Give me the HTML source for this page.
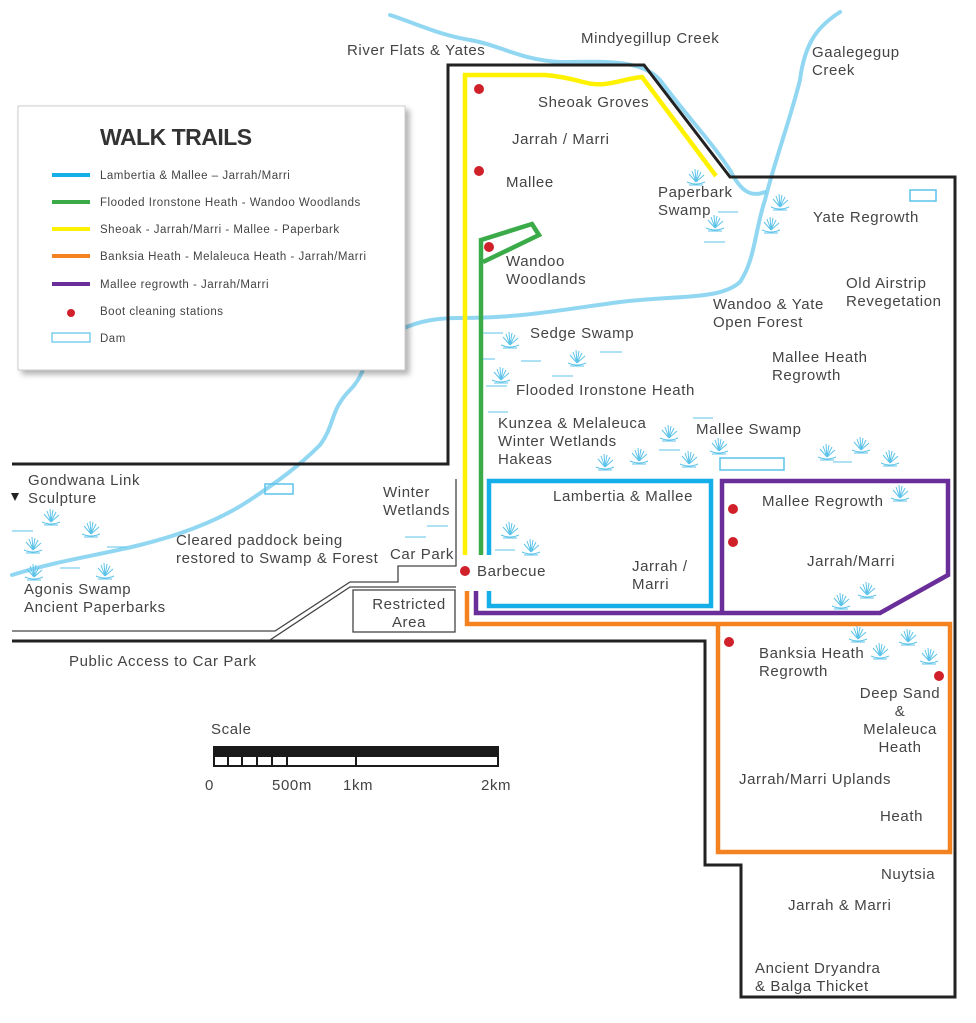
<!DOCTYPE html>
<html><head><meta charset="utf-8"><style>
html,body{margin:0;padding:0;background:#fff;}
svg{display:block;}
text{font-family:"Liberation Sans",sans-serif;font-size:15px;letter-spacing:0.6px;fill:#444;}
.lg{font-size:11.5px;letter-spacing:0.5px;}
</style></head><body>
<svg width="976" height="1023" viewBox="0 0 976 1023" xmlns="http://www.w3.org/2000/svg">
<defs>
<symbol id="s" viewBox="-10 -11 20 20" overflow="visible">
<g stroke="#5cc3ea" stroke-width="1" fill="none">
<path d="M0,4 L-7,-4 M0,4 L-4,-7 M0,4 L-1,-9 M0,4 L2,-8 M0,4 L5,-6 M0,4 L8,-3"/>
<path d="M-9,4 Q0,8 9,4"/><path d="M-7,7 L7,7"/>
</g></symbol>
<filter id="sh" x="-5%" y="-5%" width="115%" height="120%"><feDropShadow dx="4" dy="4" stdDeviation="3" flood-color="#000" flood-opacity="0.3"/></filter>
</defs>

<!-- rivers -->
<g fill="none" stroke="#7fd0f0" stroke-linecap="round">
<path stroke-width="4" opacity="0.85" d="M12,575 C60,560 100,555 140,545 C180,535 220,520 250,500 C280,480 300,465 320,445 C335,425 330,410 350,390 C370,370 360,350 400,330 C420,320 440,318 460,318 C520,318 560,310 620,302 C680,295 720,300 740,282 C755,260 755,230 765,200 C775,160 790,120 800,80 C805,40 820,25 840,12"/>
<path stroke-width="4" opacity="0.85" d="M390,15 C420,25 440,35 470,40 C500,45 520,60 560,62 C600,62 640,58 660,80 C690,120 710,140 730,170 C740,190 750,198 765,192"/>
</g>

<!-- boundary -->
<path d="M12,464 L448,464 L448,65 L644,65 L730,177 L955,177 L955,997 L741,997 L741,865 L705,865 L705,641 L12,641" fill="none" stroke="#222" stroke-width="3"/>
<g fill="none" stroke="#444" stroke-width="1.3">
<path d="M12,631 L275,631 L350,582 L398,582 L398,566 L456,566 L456,479"/>
<path d="M270,640 L350,587 L456,587"/>
<rect x="353" y="590" width="102" height="42"/>
</g>

<!-- trails -->
<g fill="none" stroke-linejoin="miter">
<path stroke="#f58220" stroke-width="4.5" d="M467,591 L467,624 L950,624 L950,852 L718,852 L718,624"/>
<path stroke="#6a2e9a" stroke-width="4.5" d="M476,591 L476,613 L880,613 L948,575 L948,481 L722,481 L722,613"/>
<path stroke="#15aee8" stroke-width="4.5" d="M489,555 L489,481 L711,481 L711,606 L489,606 L489,591"/>
<path stroke="#fff200" stroke-width="4.5" d="M465,555 L465,75 L545,75 C580,78 585,86 605,84 C620,82 630,78 642,77 L716,176"/>
<path stroke="#3aab48" stroke-width="4.5" d="M481,555 L481,240 L532,224 L539,235 L483,262"/>
</g>

<!-- dams -->
<g fill="none" stroke="#5cc3ea" stroke-width="1.5">
<rect x="910" y="190" width="26" height="11"/>
<rect x="720" y="458" width="64" height="12"/>
<rect x="265" y="484" width="28" height="10"/>
</g>

<!-- sedges -->
<g>
<use href="#s" x="686" y="167" width="20" height="20"/>
<use href="#s" x="770" y="192" width="20" height="20"/>
<use href="#s" x="705" y="213" width="20" height="20"/>
<use href="#s" x="761" y="215" width="20" height="20"/>
<use href="#s" x="500" y="330" width="20" height="20"/>
<use href="#s" x="567" y="348" width="20" height="20"/>
<use href="#s" x="491" y="365" width="20" height="20"/>
<use href="#s" x="659" y="423" width="20" height="20"/>
<use href="#s" x="709" y="436" width="20" height="20"/>
<use href="#s" x="629" y="446" width="20" height="20"/>
<use href="#s" x="595" y="452" width="20" height="20"/>
<use href="#s" x="679" y="449" width="20" height="20"/>
<use href="#s" x="817" y="442" width="20" height="20"/>
<use href="#s" x="851" y="435" width="20" height="20"/>
<use href="#s" x="880" y="448" width="20" height="20"/>
<use href="#s" x="500" y="520" width="20" height="20"/>
<use href="#s" x="521" y="537" width="20" height="20"/>
<use href="#s" x="890" y="483" width="20" height="20"/>
<use href="#s" x="831" y="591" width="20" height="20"/>
<use href="#s" x="857" y="580" width="20" height="20"/>
<use href="#s" x="848" y="624" width="20" height="20"/>
<use href="#s" x="870" y="641" width="20" height="20"/>
<use href="#s" x="898" y="627" width="20" height="20"/>
<use href="#s" x="919" y="646" width="20" height="20"/>
<use href="#s" x="41" y="507" width="20" height="20"/>
<use href="#s" x="81" y="519" width="20" height="20"/>
<use href="#s" x="23" y="535" width="20" height="20"/>
<use href="#s" x="24" y="562" width="20" height="20"/>
<use href="#s" x="95" y="561" width="20" height="20"/>
</g>
<g stroke="#5cc3ea" stroke-width="1">
<path d="M718,212h20M704,242h21M483,333h20M483,359h12M521,361h20M600,352h22M552,376h21M486,386h21M488,412h20M693,418h20M659,450h21M833,462h19M495,550h20M12,531h21M107,547h20M60,568h20M427,526h21M405,537h21"/>
</g>

<!-- dots -->
<g fill="#d0202a">
<circle cx="479" cy="89" r="5"/><circle cx="479" cy="171" r="5"/><circle cx="489" cy="247" r="5"/>
<circle cx="465" cy="571" r="5"/><circle cx="733" cy="509" r="5"/><circle cx="733" cy="542" r="5"/>
<circle cx="729" cy="642" r="5"/><circle cx="939" cy="676" r="5"/>
</g>

<!-- scale -->
<rect x="213" y="746" width="286" height="10" fill="#1a1a1a"/>
<rect x="214" y="756" width="284" height="10" fill="#fff" stroke="#1a1a1a" stroke-width="2"/>
<path d="M228,756v10M242,756v10M257,756v10M272,756v10M287,756v10M356,756v10" stroke="#1a1a1a" stroke-width="2"/>

<!-- labels -->
<text x="347" y="55">River Flats &amp; Yates</text>
<text x="581" y="43">Mindyegillup Creek</text>
<text x="812" y="57">Gaalegegup</text><text x="812" y="75">Creek</text>
<text x="538" y="107">Sheoak Groves</text>
<text x="512" y="144">Jarrah / Marri</text>
<text x="506" y="187">Mallee</text>
<text x="658" y="197">Paperbark</text><text x="658" y="215">Swamp</text>
<text x="813" y="222">Yate Regrowth</text>
<text x="506" y="266">Wandoo</text><text x="506" y="284">Woodlands</text>
<text x="846" y="288">Old Airstrip</text><text x="846" y="306">Revegetation</text>
<text x="713" y="309">Wandoo &amp; Yate</text><text x="713" y="327">Open Forest</text>
<text x="530" y="338">Sedge Swamp</text>
<text x="772" y="362">Mallee Heath</text><text x="772" y="380">Regrowth</text>
<text x="516" y="395">Flooded Ironstone Heath</text>
<text x="498" y="428">Kunzea &amp; Melaleuca</text><text x="498" y="446">Winter Wetlands</text><text x="498" y="464">Hakeas</text>
<text x="696" y="434">Mallee Swamp</text>
<text x="28" y="485">Gondwana Link</text><text x="28" y="503">Sculpture</text>
<path d="M11,493 L19,493 L15,501 Z" fill="#222"/>
<text x="383" y="497">Winter</text><text x="383" y="515">Wetlands</text>
<text x="553" y="501">Lambertia &amp; Mallee</text>
<text x="762" y="506">Mallee Regrowth</text>
<text x="176" y="545">Cleared paddock being</text><text x="176" y="563">restored to Swamp &amp; Forest</text>
<text x="390" y="559">Car Park</text>
<text x="477" y="576">Barbecue</text>
<text x="632" y="571">Jarrah /</text><text x="632" y="589">Marri</text>
<text x="807" y="566">Jarrah/Marri</text>
<text x="24" y="594">Agonis Swamp</text><text x="24" y="612">Ancient Paperbarks</text>
<text x="409" y="609" text-anchor="middle">Restricted</text><text x="409" y="627" text-anchor="middle">Area</text>
<text x="69" y="666">Public Access to Car Park</text>
<text x="759" y="658">Banksia Heath</text><text x="759" y="676">Regrowth</text>
<text x="900" y="698" text-anchor="middle">Deep Sand</text><text x="900" y="716" text-anchor="middle">&amp;</text><text x="900" y="734" text-anchor="middle">Melaleuca</text><text x="900" y="752" text-anchor="middle">Heath</text>
<text x="211" y="734">Scale</text>
<text x="205" y="790">0</text><text x="272" y="790">500m</text><text x="343" y="790">1km</text><text x="481" y="790">2km</text>
<text x="739" y="784">Jarrah/Marri Uplands</text>
<text x="880" y="821">Heath</text>
<text x="881" y="879">Nuytsia</text>
<text x="788" y="910">Jarrah &amp; Marri</text>
<text x="755" y="973">Ancient Dryandra</text><text x="755" y="991">&amp; Balga Thicket</text>

<!-- legend -->
<rect x="18" y="106" width="387" height="264" fill="#fff" stroke="#ccc" stroke-width="1" filter="url(#sh)"/>
<text x="100" y="145" style="font-size:23px;font-weight:bold;fill:#333;letter-spacing:-0.5px">WALK TRAILS</text>
<g stroke-width="4">
<path d="M52,175h38" stroke="#15aee8"/>
<path d="M52,202h38" stroke="#3aab48"/>
<path d="M52,229h38" stroke="#fff200"/>
<path d="M52,256h38" stroke="#f58220"/>
<path d="M52,284h38" stroke="#6a2e9a"/>
</g>
<circle cx="71" cy="313" r="4" fill="#d0202a"/>
<rect x="52" y="333" width="38" height="9" fill="none" stroke="#5cc3ea" stroke-width="1.2"/>
<text class="lg" x="100" y="179">Lambertia &amp; Mallee – Jarrah/Marri</text>
<text class="lg" x="100" y="206">Flooded Ironstone Heath - Wandoo Woodlands</text>
<text class="lg" x="100" y="233">Sheoak - Jarrah/Marri - Mallee - Paperbark</text>
<text class="lg" x="100" y="260">Banksia Heath - Melaleuca Heath - Jarrah/Marri</text>
<text class="lg" x="100" y="288">Mallee regrowth - Jarrah/Marri</text>
<text class="lg" x="100" y="315">Boot cleaning stations</text>
<text class="lg" x="100" y="342">Dam</text>
</svg>
</body></html>
